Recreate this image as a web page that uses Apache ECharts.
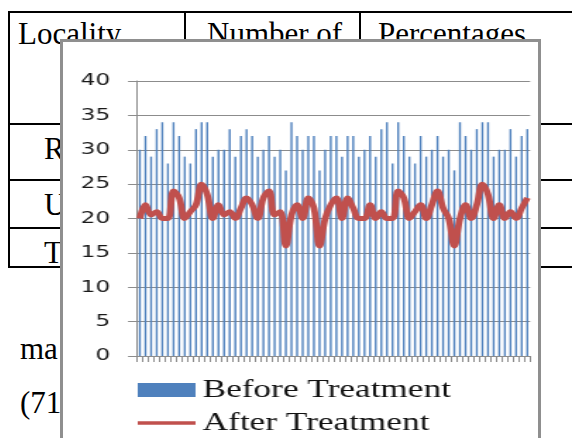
<!DOCTYPE html>
<html>
<head>
<meta charset="utf-8">
<script src="https://cdn.jsdelivr.net/npm/echarts@6/dist/echarts.min.js"></script>
<style>
  html, body { margin: 0; padding: 0; width: 572px; height: 438px; overflow: hidden; background: #fff; }
  .ln { position: absolute; background: #000; }
  .tx { position: absolute; font-family: "Liberation Serif", "Times New Roman", serif; font-size: 31px; color: #000; line-height: 1; white-space: nowrap; }
  #box { position: absolute; left: 60px; top: 39px; width: 475px; height: 460px; border: 3px solid #8f8f8f; background: #fff; overflow: hidden; }
  #stretch { position: absolute; left: 0; top: 0; width: 337px; height: 450px; transform: scaleX(1.41); transform-origin: 0 0; }
  #chart { width: 337px; height: 450px; }
</style>
</head>
<body>
<!-- background document table -->
<div class="ln" style="left:8px;top:11px;width:564px;height:2px"></div>
<div class="ln" style="left:8px;top:11px;width:2px;height:257px"></div>
<div class="ln" style="left:184px;top:11px;width:2px;height:40px"></div>
<div class="ln" style="left:359px;top:11px;width:2px;height:40px"></div>
<div class="ln" style="left:8px;top:123px;width:564px;height:2px"></div>
<div class="ln" style="left:8px;top:179px;width:564px;height:2px"></div>
<div class="ln" style="left:8px;top:227px;width:564px;height:2px"></div>
<div class="ln" style="left:8px;top:266px;width:564px;height:2px"></div>
<div class="tx" style="left:18px;top:18px">Locality</div>
<div class="tx" style="left:207px;top:18px">Number of</div>
<div class="tx" style="left:378px;top:18px">Percentages</div>
<div class="tx" style="left:44px;top:133px">R</div>
<div class="tx" style="left:44px;top:189px">U</div>
<div class="tx" style="left:44px;top:237px">T</div>
<div class="tx" style="left:20px;top:333px">ma</div>
<div class="tx" style="left:20px;top:387px">(71</div>

<div id="box"><div id="stretch"><div id="chart"></div></div></div>

<script>
const categories = ['1','2','3','4','5','6','7','8','9','10','11','12','13','14','15','16','17','18','19','20',
  '21','22','23','24','25','26','27','28','29','30','31','32','33','34','35','36','37','38','39','40',
  '41','42','43','44','45','46','47','48','49','50','51','52','53','54','55','56','57','58','59','60',
  '61','62','63','64','65','66','67','68','69','70'];
const beforeTreatment = [30,32,29,33,34,28,34,32,29,28, 33,34,34,29,30,30,33,29,32,33,
  32,29,30,32,29,30,27,34,32,30, 32,32,27,30,32,32,29,32,32,29,
  30,32,29,33,34,28,34,32,29,28, 32,29,30,32,29,30,27,34,32,30,
  33,34,34,29,30,30,33,29,32,33];
const afterTreatment = [20,22,20.5,21,20,20,24,23,20,21, 22,25,23.5,20,22,20.5,21,20,21.5,23,
  22,20,23,24,20.5,21,16,20.5,22,20, 23,21.5,16,20,22,23,20,23,21.5,20,
  20,22,20,21,20,20,24,23,20,21, 22,20,22,24,21.5,20,16,20,22,20,
  22,25,23.5,20,22,20,21,20,21.5,23];
const yTicks = { min: 0, max: 40, interval: 5 };
const seriesNames = ['Before Treatment', 'After Treatment'];

const chart = echarts.init(document.getElementById('chart'), null, { renderer: 'canvas' });
const gray = '#8c8c8c';
chart.setOption({
  animation: false,
  grid: { left: 52.5, right: 5.7, top: 39, bottom: 136, containLabel: false },
  legend: {
    orient: 'vertical', left: 53, top: 335, itemGap: 7, padding: 0,
    itemWidth: 41, itemHeight: 14, symbolKeepAspect: true,
    textStyle: { fontFamily: 'Liberation Serif', fontSize: 25, color: '#111', lineHeight: 26 },
    data: [
      { name: seriesNames[0], icon: 'rect' },
      { name: seriesNames[1], icon: 'path://M0,0 L40,0 L40,3.2 L0,3.2 Z' }
    ]
  },
  xAxis: {
    type: 'category', data: categories, boundaryGap: true,
    axisLine: { show: true, lineStyle: { color: gray, width: 1 } },
    axisTick: { show: true, interval: 0, length: 6, lineStyle: { color: gray } },
    axisLabel: { show: false },
    splitLine: { show: false }
  },
  yAxis: {
    type: 'value', min: yTicks.min, max: yTicks.max, interval: yTicks.interval,
    axisLine: { show: true, lineStyle: { color: gray, width: 1 } },
    axisTick: { show: true, length: 6.4, lineStyle: { color: gray } },
    axisLabel: { margin: 19, fontFamily: 'DejaVu Sans', fontSize: 16.5, color: '#1a1a1a' },
    splitLine: { show: true, lineStyle: { color: gray, width: 1 } }
  },
  series: [
    {
      name: seriesNames[0], type: 'bar', data: beforeTreatment,
      barWidth: 1.4, itemStyle: { color: '#4F81BD' }
    },
    {
      name: seriesNames[1], type: 'line', data: afterTreatment,
      smooth: 0.4, symbol: 'none', showSymbol: false,
      lineStyle: { color: '#C0504D', width: 4.8 },
      itemStyle: { color: '#C0504D' }
    }
  ]
});
</script>
</body>
</html>
